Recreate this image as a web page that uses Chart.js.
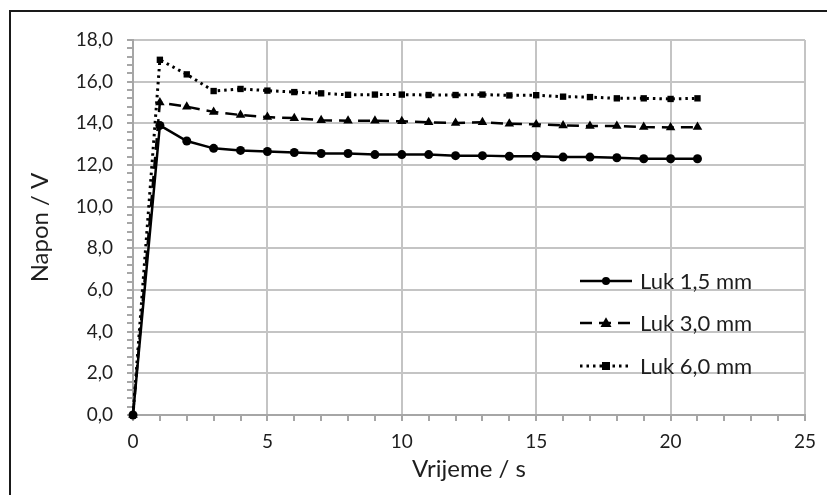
<!DOCTYPE html>
<html>
<head>
<meta charset="utf-8">
<script src="https://cdn.jsdelivr.net/npm/chart.js@4.4.1/dist/chart.umd.min.js"></script>
<style>
  html, body { margin: 0; padding: 0; background: #fff; overflow: hidden; }
  #wrap { position: relative; width: 827px; height: 495px; }
  #frame { position: absolute; left: 9px; top: 10px; width: 900px; height: 600px; border: 2px solid #1a1a1a; }
  canvas { position: absolute; left: 0; top: 0; }
</style>
</head>
<body>
<div id="wrap">
  <div id="frame"></div>
  <canvas id="chart" width="827" height="495"></canvas>
</div>
<script>
// time in seconds
const times = [0, 1, 2, 3, 4, 5, 6, 7, 8, 9, 10, 11, 12, 13, 14, 15, 16, 17, 18, 19, 20, 21];
// voltage in V
const luk15 = [0, 13.9, 13.15, 12.8, 12.7, 12.65, 12.6, 12.55, 12.55, 12.5, 12.5, 12.5, 12.45, 12.45, 12.42, 12.42, 12.38, 12.38, 12.35, 12.3, 12.3, 12.3];
const luk30 = [0, 15.0, 14.8, 14.55, 14.4, 14.3, 14.25, 14.15, 14.12, 14.12, 14.1, 14.05, 14.02, 14.05, 13.98, 13.95, 13.9, 13.87, 13.87, 13.82, 13.8, 13.82];
const luk60 = [0, 17.05, 16.35, 15.55, 15.65, 15.57, 15.5, 15.44, 15.37, 15.38, 15.38, 15.36, 15.36, 15.38, 15.34, 15.35, 15.28, 15.26, 15.2, 15.2, 15.17, 15.2];
const seriesNames = ['Luk 1,5 mm', 'Luk 3,0 mm', 'Luk 6,0 mm'];

const FONT = 'Lato';
const TEXT = '#1e1e1e';
const GRID = '#c4c4c4';
const AXIS = '#a6a6a6';

function pts(vals) {
    return times.map((t, i) => ({x: t, y: vals[i]}));
}

function drawMarker(ctx, style, r, x, y) {
    ctx.beginPath();
    if (style === 'circle') {
        ctx.arc(x, y, r, 0, Math.PI * 2);
    } else if (style === 'rect') {
        ctx.rect(x - r, y - r, r * 2, r * 2);
    } else {
        ctx.moveTo(x, y - r * 1.15);
        ctx.lineTo(x + r * 1.1, y + r * 0.8);
        ctx.lineTo(x - r * 1.1, y + r * 0.8);
        ctx.closePath();
    }
    ctx.fill();
}

// legend sits inside the plot, bottom right
const insideLegend = {
    id: 'insideLegend',
    afterDraw(chart) {
        const ctx = chart.ctx;
        const a = chart.chartArea;
        const x0 = a.left + 447, x1 = a.left + 499, tx = a.left + 507;
        const rows = [a.top + 241, a.top + 283, a.top + 326];
        ctx.save();
        chart.data.datasets.forEach((ds, i) => {
            const y = rows[i];
            ctx.strokeStyle = '#000';
            ctx.fillStyle = '#000';
            ctx.lineWidth = ds.borderWidth;
            ctx.setLineDash(ds.borderDash || []);
            ctx.beginPath();
            ctx.moveTo(x0, y);
            ctx.lineTo(x1, y);
            ctx.stroke();
            ctx.setLineDash([]);
            drawMarker(ctx, ds.pointStyle, ds.pointRadius - 0.5, (x0 + x1) / 2, y);
            ctx.fillStyle = TEXT;
            ctx.font = '22px ' + FONT;
            ctx.textBaseline = 'middle';
            ctx.textAlign = 'left';
            ctx.fillText(ds.label, tx, y + 1);
        });
        ctx.restore();
    }
};

new Chart(document.getElementById('chart'), {
    type: 'line',
    data: {
        datasets: [
            {
                label: seriesNames[0],
                data: pts(luk15),
                borderColor: '#000',
                backgroundColor: '#000',
                borderWidth: 2.5,
                pointStyle: 'circle',
                pointRadius: 4.5,
                pointBorderWidth: 0
            },
            {
                label: seriesNames[1],
                data: pts(luk30),
                borderColor: '#000',
                backgroundColor: '#000',
                borderWidth: 2.5,
                borderDash: [12, 7],
                pointStyle: 'triangle',
                pointRadius: 5.5,
                pointBorderWidth: 0
            },
            {
                label: seriesNames[2],
                data: pts(luk60),
                borderColor: '#000',
                backgroundColor: '#000',
                borderWidth: 3,
                borderDash: [2.5, 4],
                pointStyle: 'rect',
                pointRadius: 4.5,
                pointBorderWidth: 0
            }
        ]
    },
    options: {
        responsive: false,
        animation: false,
        clip: false,
        layout: { padding: { left: 22, top: 40, right: 22, bottom: 7 } },
        plugins: {
            legend: { display: false },
            tooltip: { enabled: false }
        },
        scales: {
            x: {
                type: 'linear',
                min: 0,
                max: 25,
                afterFit(scale) { scale.height = 73; },
                border: { color: AXIS, width: 2 },
                grid: {
                    color: c => (c.tick && c.tick.value % 5 === 0 && c.tick.value !== 0) ? GRID : 'rgba(0,0,0,0)',
                    tickColor: AXIS,
                    lineWidth: 2,
                    tickLength: 6
                },
                ticks: {
                    stepSize: 1,
                    autoSkip: false,
                    maxRotation: 0,
                    padding: 9,
                    color: TEXT,
                    font: { family: FONT, size: 19 },
                    callback: v => (v % 5 === 0 ? String(v) : '')
                },
                title: {
                    display: true,
                    text: 'Vrijeme / s',
                    color: TEXT,
                    font: { family: FONT, size: 24 }
                }
            },
            y: {
                min: 0,
                max: 18,
                afterFit(scale) { scale.width = 133 - 22; },
                border: { color: AXIS, width: 2 },
                grid: {
                    color: c => {
                        const v = c.tick ? c.tick.value : 0;
                        const major = Math.abs(v / 2 - Math.round(v / 2)) < 1e-6;
                        return (major && v > 0.01) ? GRID : 'rgba(0,0,0,0)';
                    },
                    tickColor: AXIS,
                    lineWidth: 2,
                    tickLength: 6
                },
                ticks: {
                    stepSize: 0.4,
                    autoSkip: false,
                    padding: 14,
                    color: TEXT,
                    font: { family: FONT, size: 19 },
                    callback: v => {
                        const major = Math.abs(v / 2 - Math.round(v / 2)) < 1e-6;
                        return major ? (Math.round(v * 10) / 10).toFixed(1).replace('.', ',') : '';
                    }
                },
                title: {
                    display: true,
                    text: 'Napon / V',
                    color: TEXT,
                    font: { family: FONT, size: 24 }
                }
            }
        }
    },
    plugins: [insideLegend]
});
</script>
</body>
</html>
